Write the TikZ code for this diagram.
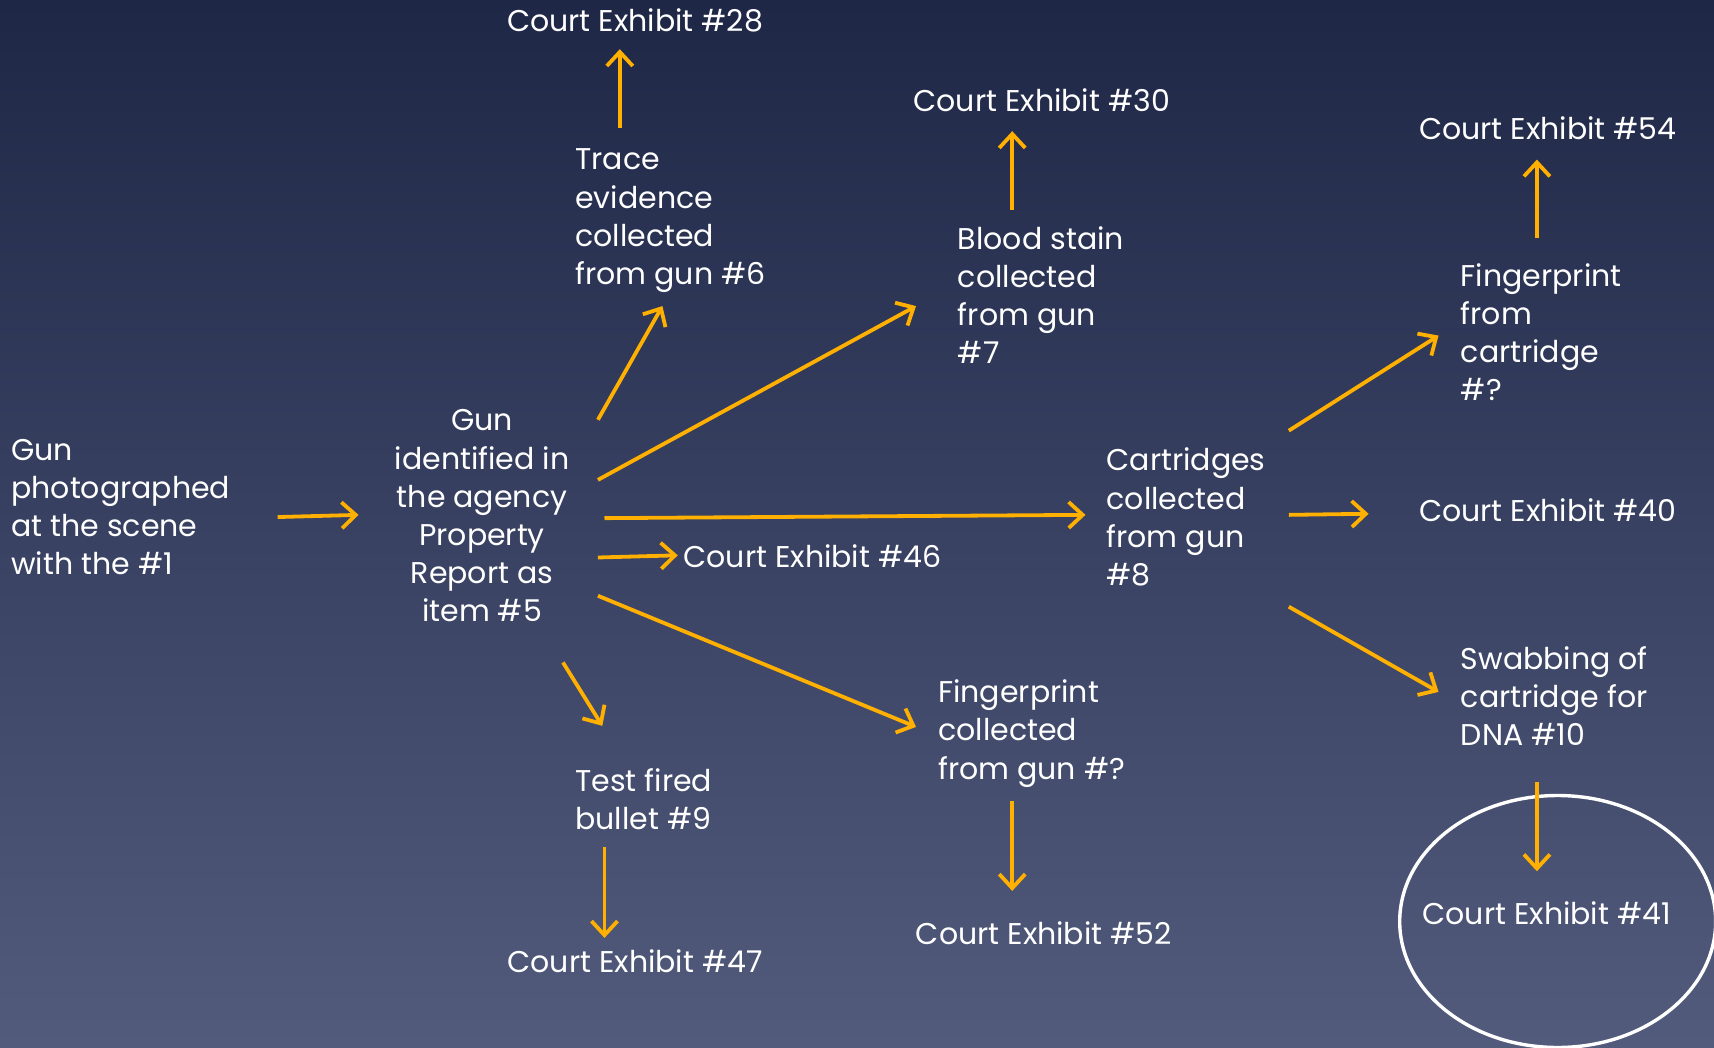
\documentclass[tikz,border=0pt]{standalone}
\usepackage{fontspec}
\setmainfont{Poppins}
\usetikzlibrary{arrows.meta}
\usetikzlibrary{shapes.geometric}
\definecolor{bgtop}{RGB}{30,39,70}
\definecolor{bgbot}{RGB}{82,91,124}
\definecolor{amber}{RGB}{255,176,0}

\begin{document}
\begin{tikzpicture}[
  x=0.5466pt, y=-0.5466pt,
  font=\fontsize{15}{19.1}\selectfont,
  txt/.style={text=white, inner sep=0pt, align=left, anchor=west},
  exhibit/.style={text=white, inner sep=0pt, anchor=center},
  arrow/.style={-{Straight Barb[length=7pt,width=13pt]}, draw=amber, line width=1.9pt},
  ring/.style={draw=white, line width=1.7pt, ellipse, minimum width=158pt, minimum height=126pt}
]

% Background
\shade[top color=bgtop, bottom color=bgbot] (0,0) rectangle (1568,958);
\useasboundingbox (0,0) rectangle (1568,958);

% Left: gun at the scene and property report
\node[txt] (scene) at (10,464) {Gun\\photographed\\at the scene\\with the \#1};
\node[txt, align=center, anchor=center] (gun) at (441,472) {Gun\\identified in\\the agency\\Property\\Report as\\item \#5};

% Items collected from the gun
\node[txt] (trace) at (526,202) {Trace\\evidence\\collected\\from gun \#6};
\node[txt] (blood) at (876,270) {Blood stain\\collected\\from gun\\\#7};
\node[txt] (cartr) at (1012,473) {Cartridges\\collected\\from gun\\\#8};
\node[txt] (print) at (858,671) {Fingerprint\\collected\\from gun \#?};
\node[txt] (bullet) at (526,731) {Test fired\\bullet \#9};

% Items from the cartridges
\node[txt] (cprint) at (1336,304) {Fingerprint\\from\\cartridge\\\#?};
\node[txt] (swab) at (1336,637) {Swabbing of\\cartridge for\\DNA \#10};

% Court exhibits
\node[exhibit] (ex28) at (581,19) {Court Exhibit \#28};
\node[exhibit] (ex30) at (953,92) {Court Exhibit \#30};
\node[txt] (ex46) at (625,509) {Court Exhibit \#46};
\node[exhibit] (ex47) at (581,879) {Court Exhibit \#47};
\node[exhibit] (ex52) at (955,854) {Court Exhibit \#52};
\node[exhibit] (ex54) at (1416,117) {Court Exhibit \#54};
\node[exhibit] (ex40) at (1416,467) {Court Exhibit \#40};
\node[exhibit] (ex41) at (1415,835) {Court Exhibit \#41};
\node[ring] (circ) at (1425,843) {};

% Arrows out of the gun
\draw[arrow] ([shift={(244,9)}]scene.west) -- ([shift={(-113,-1)}]gun.center);
\draw[arrow] ([shift={(106,-88)}]gun.center) -- ([shift={(80,78)}]trace.west);
\draw[arrow] ([shift={(106,-33)}]gun.center) -- ([shift={(-38,10)}]blood.west);
\draw[arrow] ([shift={(112,2)}]gun.center) -- ([shift={(-19,-2)}]cartr.west);
\draw[arrow] ([shift={(106,38)}]gun.center) -- ([shift={(-5,-1)}]ex46.west);
\draw[arrow] ([shift={(106,73)}]gun.center) -- ([shift={(-20,-6)}]print.west);
\draw[arrow] ([shift={(74,134)}]gun.center) -- ([shift={(25,-67)}]bullet.west);

% Arrows to exhibits
\draw[arrow] ([shift={(41,-85)}]trace.west) -- ([shift={(-14,26)}]ex28.center);
\draw[arrow] ([shift={(50,-78)}]blood.west) -- ([shift={(-27,28)}]ex30.center);
\draw[arrow] ([shift={(27,44)}]bullet.west) -- ([shift={(-28,-21)}]ex47.center);
\draw[arrow] ([shift={(68,62)}]print.west) -- ([shift={(-29,-39)}]ex52.center);

% Arrows out of the cartridges
\draw[arrow] ([shift={(167,-79)}]cartr.west) -- ([shift={(-20,3)}]cprint.west);
\draw[arrow] ([shift={(167,-2)}]cartr.west) -- ([shift={(-164,3)}]ex40.center);
\draw[arrow] ([shift={(167,82)}]cartr.west) -- ([shift={(-20,-4)}]swab.west);
\draw[arrow] ([shift={(70,-86)}]cprint.west) -- ([shift={(-10,29)}]ex54.center);
\draw[arrow] ([shift={(70,78)}]swab.west) -- ([shift={(-9,-38)}]ex41.center);

\end{tikzpicture}
\end{document}
